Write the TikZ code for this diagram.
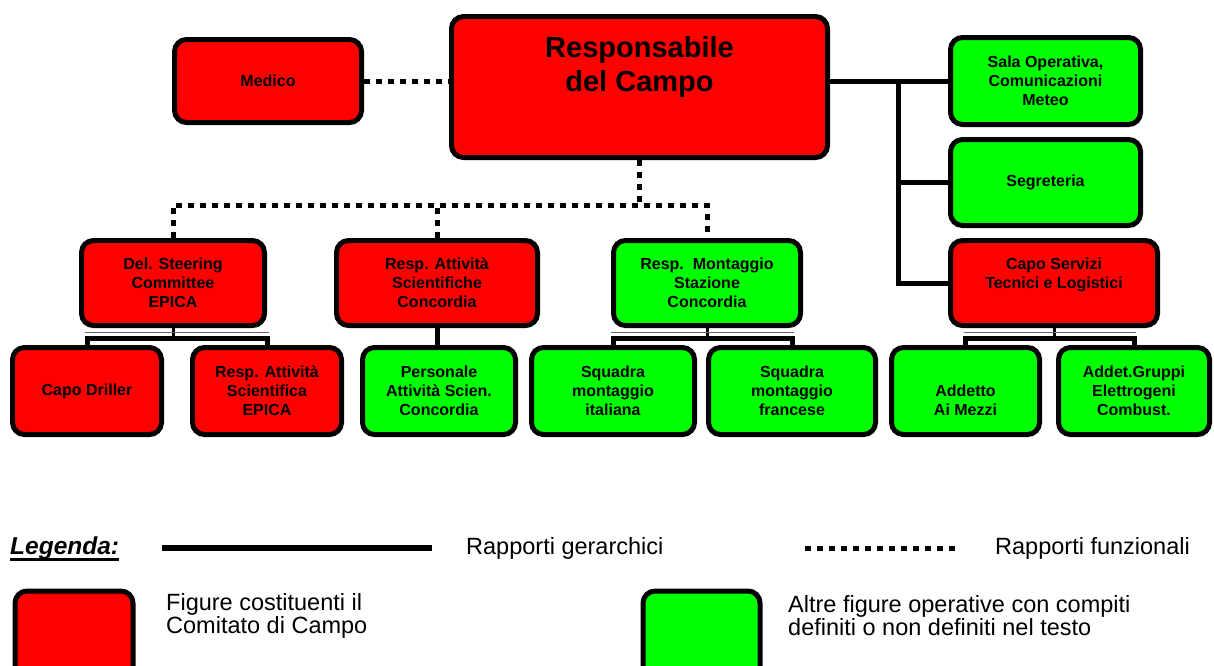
\documentclass[tikz,border=0pt]{standalone}
\usepackage{fontspec}
\setmainfont{Liberation Sans}
\usetikzlibrary{calc}
\begin{document}
\begin{tikzpicture}[x=1pt,y=-1pt,
  box/.style={draw=black, line width=5pt, rounded corners=12pt, inner sep=0pt, align=center,
    font=\bfseries\fontsize{16}{19}\selectfont},
  rbox/.style={box, fill=red},
  gbox/.style={box, fill=green},
  hier/.style={draw=black, line width=5pt},
  func/.style={draw=black, line width=5pt, dash pattern=on 6pt off 6pt},
  brk/.style={draw=black, line width=5pt},
  thin/.style={draw=black!60, line width=1.2pt},
  stem/.style={draw=black, line width=3pt},
  legtxt/.style={inner sep=0pt, align=left, font=\fontsize{23.5}{23}\selectfont}
]
\clip (0,0) rectangle (1214,665);
\fill[white] (0,0) rectangle (1214,665);

% top level
\node[rbox, minimum width=376pt, minimum height=141pt] (resp) at (639.5,87) {};
\node[inner sep=0pt, align=center, font=\bfseries\fontsize{29}{34}\selectfont] (resptxt) at (639.5,67) {Responsabile\\del Campo};
\node[rbox, minimum width=187pt, minimum height=83pt] (medico) at (268,81) {Medico};

% right column
\node[gbox, minimum width=190pt, minimum height=87pt] (sala) at (1045.5,81) {Sala Operativa,\\Comunicazioni\\Meteo};
\node[gbox, minimum width=190pt, minimum height=86pt] (segr) at (1045.5,182.5) {Segreteria};
\node[rbox, minimum width=207pt, minimum height=85pt] (cs) at (1054,283) {Capo Servizi\\Tecnici e Logistici\\\phantom{X}};

% middle row
\node[rbox, minimum width=183pt, minimum height=85pt] (dsc) at (173,283) {Del. Steering\\Committee\\EPICA};
\node[rbox, minimum width=201pt, minimum height=85pt] (ras) at (437,283) {Resp. Attività\\Scientifiche\\Concordia};
\node[gbox, minimum width=187pt, minimum height=85pt] (rms) at (707,283) {Resp.\ \ Montaggio\\Stazione\\Concordia};

% bottom row
\node[rbox, minimum width=149pt, minimum height=87pt] (cd) at (87,391) {Capo Driller};
\node[rbox, minimum width=149pt, minimum height=87pt] (rse) at (267,391) {Resp. Attività\\Scientifica\\EPICA};
\node[gbox, minimum width=153pt, minimum height=87pt] (pers) at (439,391) {Personale\\Attività Scien.\\Concordia};
\node[gbox, minimum width=163pt, minimum height=87pt] (sqi) at (613,391) {Squadra\\montaggio\\italiana};
\node[gbox, minimum width=167pt, minimum height=87pt] (sqf) at (792,391) {Squadra\\montaggio\\francese};
\node[gbox, minimum width=148pt, minimum height=87pt] (adm) at (965.5,391) {\phantom{X}\\Addetto\\Ai Mezzi};
\node[gbox, minimum width=151pt, minimum height=87pt] (agr) at (1134,391) {Addet.Gruppi\\Elettrogeni\\Combust.};

% hierarchical connectors
\draw[hier] (resp.east |- sala.west) -- (sala.west);
\coordinate (trunk) at (898,81);
\draw[hier] (trunk) |- (cs.west);
\draw[hier] (trunk |- segr.west) -- (segr.west);
\draw[hier] (ras.south) -- (ras.south |- pers.north);

% brackets
\path (dsc.south) ++(0,10) coordinate (b1);
\draw[stem] (dsc.south) -- (b1);
\draw[brk] (cd.north) |- (b1) -| (rse.north);
\draw[thin] ($(cd.north |- b1)+(-2,-5.5)$) -- ($(rse.north |- b1)+(2,-5.5)$);
\path (rms.south) ++(0,10) coordinate (b2);
\draw[stem] (rms.south) -- (b2);
\draw[brk] (sqi.north) |- (b2) -| (sqf.north);
\draw[thin] ($(sqi.north |- b2)+(-2,-5.5)$) -- ($(sqf.north |- b2)+(2,-5.5)$);
\path (cs.south) ++(0,10) coordinate (b3);
\draw[stem] (cs.south) -- (b3);
\draw[brk] (adm.north) |- (b3) -| (agr.north);
\draw[thin] ($(adm.north |- b3)+(-2,-5.5)$) -- ($(agr.north |- b3)+(2,-5.5)$);

% functional connectors
\draw[func] (medico.east) -- (medico.east -| resp.west);
\path (resp.south) ++(0,45) coordinate (fj);
\draw[func] (resp.south) -- (fj);
\draw[func] (dsc.north) |- (fj) -| (rms.north);
\draw[func] (ras.north) -- (ras.north |- fj);

% legend
\node[inner sep=0pt, anchor=west, font=\bfseries\itshape\fontsize{24.5}{24}\selectfont] (leg) at (10,548) {Legenda:};
\draw[line width=2.5pt] ($(leg.base west)+(0,5)$) -- ($(leg.base east)+(0,5)$);
\coordinate (h1) at (162,548);
\coordinate (h2) at (432,548);
\draw[hier, line width=6pt] (h1) -- (h2);
\node[legtxt, anchor=west] (hl) at (466,548) {Rapporti gerarchici};
\coordinate (f1) at (805,548);
\coordinate (f2) at (955,548);
\draw[func] (f1) -- (f2);
\node[legtxt, anchor=west] (fl) at (995,548) {Rapporti funzionali};

\node[rbox, anchor=north west, minimum width=118pt, minimum height=120pt] (lr) at (12.5,588.5) {};
\node[legtxt, anchor=west] (lrt) at (166,616) {Figure costituenti il\\Comitato di Campo};
\node[gbox, anchor=north west, minimum width=117pt, minimum height=120pt] (lg) at (640.5,588.5) {};
\node[legtxt, anchor=west] (lgt) at (788,616) {Altre figure operative con compiti\\definiti o non definiti nel testo};
\end{tikzpicture}
\end{document}
